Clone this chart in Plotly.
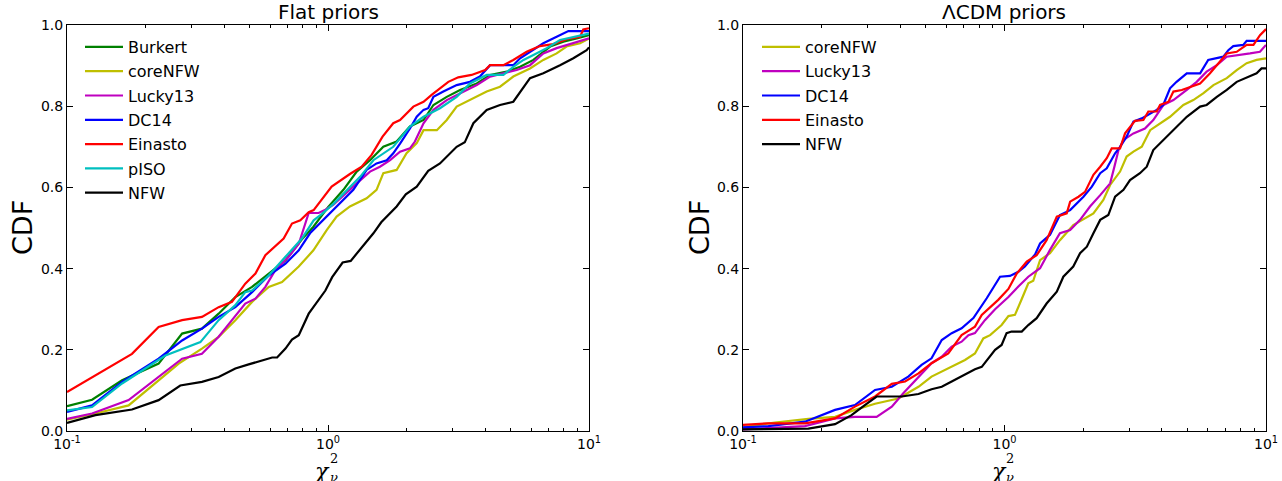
import numpy as np
import plotly.graph_objects as go

# ---------------- data (log10 chi2_nu, CDF) ----------------
# Flat priors panel
flat_burkert_lx = [-1, -0.904, -0.789, -0.649, -0.559, -0.483, -0.419, -0.355, -0.291, -0.227, -0.163, -0.100, -0.056, 0.001, 0.059, 0.110, 0.161, 0.212, 0.263, 0.314, 0.366, 0.404, 0.455, 0.506, 0.570, 0.621, 0.685, 0.736, 0.787, 0.851, 0.902, 0.953, 1.0]
flat_burkert_y = [0.061, 0.077, 0.125, 0.166, 0.240, 0.252, 0.289, 0.330, 0.355, 0.388, 0.420, 0.472, 0.503, 0.552, 0.594, 0.639, 0.667, 0.700, 0.713, 0.750, 0.766, 0.803, 0.823, 0.840, 0.856, 0.877, 0.885, 0.897, 0.914, 0.947, 0.959, 0.967, 0.975]

flat_corenfw_lx = [-1, -0.891, -0.764, -0.662, -0.572, -0.483, -0.419, -0.355, -0.291, -0.227, -0.176, -0.112, -0.056, -0.005, 0.033, 0.084, 0.148, 0.186, 0.212, 0.263, 0.301, 0.340, 0.366, 0.417, 0.455, 0.493, 0.544, 0.608, 0.659, 0.710, 0.774, 0.825, 0.876, 0.914, 0.966, 1.0]
flat_corenfw_y = [0.028, 0.043, 0.063, 0.117, 0.166, 0.203, 0.232, 0.273, 0.318, 0.355, 0.367, 0.405, 0.445, 0.495, 0.528, 0.553, 0.573, 0.594, 0.635, 0.643, 0.684, 0.709, 0.741, 0.741, 0.766, 0.799, 0.815, 0.836, 0.848, 0.873, 0.893, 0.914, 0.930, 0.947, 0.955, 0.967]

flat_lucky13_lx = [-1, -0.904, -0.764, -0.649, -0.559, -0.483, -0.419, -0.368, -0.317, -0.278, -0.240, -0.202, -0.151, -0.112, -0.087, -0.074, -0.036, -0.010, 0.020, 0.059, 0.110, 0.161, 0.199, 0.238, 0.276, 0.314, 0.333, 0.366, 0.404, 0.455, 0.506, 0.570, 0.621, 0.672, 0.723, 0.774, 0.825, 0.876, 0.940, 1.0]
flat_lucky13_y = [0.030, 0.043, 0.076, 0.133, 0.178, 0.190, 0.232, 0.273, 0.314, 0.326, 0.355, 0.396, 0.429, 0.461, 0.511, 0.537, 0.537, 0.545, 0.557, 0.581, 0.610, 0.639, 0.651, 0.667, 0.688, 0.696, 0.713, 0.758, 0.791, 0.815, 0.832, 0.852, 0.873, 0.881, 0.889, 0.901, 0.930, 0.943, 0.955, 0.967]

flat_dc14_lx = [-1, -0.904, -0.789, -0.700, -0.649, -0.559, -0.483, -0.419, -0.355, -0.291, -0.227, -0.163, -0.112, -0.069, -0.018, 0.046, 0.097, 0.148, 0.186, 0.225, 0.250, 0.276, 0.314, 0.340, 0.366, 0.384, 0.404, 0.442, 0.493, 0.544, 0.582, 0.621, 0.710, 0.736, 0.774, 0.825, 0.876, 0.921, 1.0]
flat_dc14_y = [0.047, 0.063, 0.121, 0.158, 0.178, 0.223, 0.252, 0.281, 0.305, 0.342, 0.383, 0.412, 0.445, 0.487, 0.520, 0.561, 0.594, 0.643, 0.659, 0.667, 0.684, 0.708, 0.745, 0.774, 0.791, 0.795, 0.823, 0.836, 0.852, 0.860, 0.873, 0.901, 0.901, 0.918, 0.934, 0.955, 0.971, 0.985, 0.985]

flat_einasto_lx = [-1, -0.904, -0.751, -0.649, -0.559, -0.483, -0.419, -0.368, -0.317, -0.278, -0.240, -0.170, -0.138, -0.106, -0.074, -0.055, 0.014, 0.084, 0.129, 0.167, 0.209, 0.250, 0.276, 0.327, 0.366, 0.397, 0.429, 0.461, 0.499, 0.550, 0.602, 0.621, 0.672, 0.710, 0.761, 0.812, 0.863, 0.914, 0.966, 0.978, 1.0]
flat_einasto_y = [0.096, 0.133, 0.190, 0.256, 0.273, 0.281, 0.305, 0.318, 0.363, 0.388, 0.433, 0.474, 0.511, 0.519, 0.539, 0.544, 0.602, 0.633, 0.651, 0.680, 0.725, 0.758, 0.766, 0.799, 0.811, 0.828, 0.844, 0.860, 0.871, 0.877, 0.889, 0.901, 0.901, 0.914, 0.934, 0.948, 0.953, 0.965, 0.971, 0.989, 0.992]

flat_piso_lx = [-1, -0.904, -0.789, -0.623, -0.489, -0.419, -0.355, -0.317, -0.291, -0.227, -0.163, -0.100, -0.055, -0.023, 0.022, 0.059, 0.123, 0.174, 0.212, 0.250, 0.282, 0.314, 0.366, 0.429, 0.493, 0.544, 0.608, 0.672, 0.710, 0.749, 0.787, 0.838, 0.889, 0.940, 1.0]
flat_piso_y = [0.051, 0.059, 0.117, 0.186, 0.219, 0.273, 0.310, 0.342, 0.346, 0.383, 0.429, 0.474, 0.519, 0.535, 0.560, 0.585, 0.626, 0.667, 0.684, 0.700, 0.725, 0.750, 0.774, 0.795, 0.823, 0.856, 0.877, 0.877, 0.897, 0.914, 0.926, 0.943, 0.963, 0.971, 0.979]

flat_nfw_lx = [-1, -0.891, -0.751, -0.649, -0.566, -0.483, -0.419, -0.355, -0.304, -0.253, -0.214, -0.195, -0.163, -0.138, -0.112, -0.074, -0.036, -0.010, 0.016, 0.056, 0.087, 0.123, 0.174, 0.204, 0.263, 0.298, 0.340, 0.384, 0.429, 0.493, 0.524, 0.557, 0.608, 0.659, 0.710, 0.774, 0.825, 0.889, 0.940, 0.991, 1.0]
flat_nfw_y = [0.020, 0.039, 0.053, 0.076, 0.112, 0.121, 0.133, 0.154, 0.164, 0.174, 0.181, 0.181, 0.203, 0.225, 0.236, 0.289, 0.322, 0.346, 0.379, 0.415, 0.419, 0.446, 0.487, 0.514, 0.553, 0.583, 0.602, 0.641, 0.659, 0.700, 0.711, 0.758, 0.791, 0.803, 0.811, 0.869, 0.881, 0.901, 0.918, 0.938, 0.945]

# LCDM priors panel
lcdm_corenfw_lx = [-1, -0.878, -0.750, -0.648, -0.572, -0.495, -0.406, -0.329, -0.279, -0.215, -0.151, -0.113, -0.081, -0.055, -0.011, 0.015, 0.040, 0.066, 0.091, 0.110, 0.136, 0.174, 0.212, 0.263, 0.308, 0.340, 0.378, 0.404, 0.442, 0.467, 0.493, 0.525, 0.557, 0.595, 0.633, 0.684, 0.722, 0.761, 0.799, 0.850, 0.888, 0.926, 0.964, 1.0]
lcdm_corenfw_y = [0.009, 0.021, 0.030, 0.035, 0.052, 0.067, 0.080, 0.109, 0.134, 0.154, 0.175, 0.191, 0.228, 0.236, 0.261, 0.283, 0.286, 0.325, 0.364, 0.370, 0.421, 0.438, 0.470, 0.507, 0.524, 0.536, 0.569, 0.606, 0.639, 0.676, 0.688, 0.700, 0.741, 0.758, 0.774, 0.803, 0.815, 0.832, 0.852, 0.869, 0.889, 0.906, 0.914, 0.918]

lcdm_lucky13_lx = [-1, -0.763, -0.648, -0.572, -0.489, -0.431, -0.387, -0.329, -0.279, -0.240, -0.202, -0.164, -0.138, -0.113, -0.075, -0.036, 0.015, 0.053, 0.091, 0.136, 0.174, 0.212, 0.251, 0.289, 0.327, 0.366, 0.404, 0.420, 0.436, 0.455, 0.493, 0.537, 0.569, 0.608, 0.646, 0.697, 0.735, 0.773, 0.812, 0.850, 0.901, 0.939, 0.977, 1.0]
lcdm_lucky13_y = [0.004, 0.012, 0.031, 0.035, 0.035, 0.060, 0.093, 0.134, 0.167, 0.183, 0.208, 0.220, 0.236, 0.241, 0.273, 0.300, 0.330, 0.356, 0.380, 0.401, 0.446, 0.487, 0.495, 0.520, 0.553, 0.581, 0.610, 0.650, 0.692, 0.717, 0.733, 0.745, 0.766, 0.803, 0.815, 0.840, 0.860, 0.885, 0.901, 0.922, 0.926, 0.930, 0.934, 0.951]

lcdm_dc14_lx = [-1, -0.903, -0.763, -0.648, -0.572, -0.495, -0.431, -0.368, -0.317, -0.279, -0.240, -0.202, -0.164, -0.119, -0.068, -0.017, 0.021, 0.053, 0.078, 0.117, 0.136, 0.174, 0.212, 0.251, 0.302, 0.334, 0.366, 0.391, 0.423, 0.442, 0.467, 0.493, 0.525, 0.557, 0.582, 0.607, 0.633, 0.658, 0.697, 0.748, 0.779, 0.837, 0.856, 0.875, 0.913, 0.926, 1.0]
lcdm_dc14_y = [0.009, 0.012, 0.023, 0.052, 0.064, 0.101, 0.109, 0.134, 0.163, 0.179, 0.224, 0.241, 0.253, 0.278, 0.327, 0.380, 0.382, 0.392, 0.405, 0.435, 0.462, 0.483, 0.532, 0.544, 0.577, 0.602, 0.635, 0.647, 0.684, 0.700, 0.725, 0.762, 0.770, 0.782, 0.791, 0.803, 0.844, 0.860, 0.881, 0.881, 0.914, 0.922, 0.938, 0.948, 0.951, 0.961, 0.961]

lcdm_einasto_lx = [-1, -0.903, -0.763, -0.648, -0.572, -0.495, -0.431, -0.380, -0.329, -0.279, -0.215, -0.164, -0.113, -0.087, -0.024, 0.015, 0.047, 0.085, 0.123, 0.161, 0.200, 0.238, 0.251, 0.283, 0.308, 0.340, 0.366, 0.391, 0.410, 0.442, 0.461, 0.499, 0.531, 0.550, 0.582, 0.595, 0.627, 0.646, 0.678, 0.710, 0.748, 0.786, 0.811, 0.850, 0.888, 0.926, 0.952, 0.977, 1.0]
lcdm_einasto_y = [0.015, 0.019, 0.019, 0.031, 0.060, 0.085, 0.116, 0.122, 0.142, 0.167, 0.191, 0.236, 0.257, 0.286, 0.323, 0.350, 0.388, 0.417, 0.433, 0.470, 0.528, 0.536, 0.565, 0.577, 0.589, 0.631, 0.651, 0.672, 0.696, 0.696, 0.733, 0.764, 0.766, 0.787, 0.787, 0.803, 0.811, 0.836, 0.840, 0.848, 0.856, 0.881, 0.901, 0.930, 0.934, 0.951, 0.951, 0.975, 0.990]

lcdm_nfw_lx = [-1, -0.750, -0.648, -0.585, -0.534, -0.489, -0.393, -0.329, -0.279, -0.240, -0.202, -0.164, -0.138, -0.113, -0.087, -0.062, -0.036, -0.011, 0.008, 0.027, 0.066, 0.091, 0.123, 0.161, 0.200, 0.225, 0.263, 0.289, 0.315, 0.340, 0.366, 0.397, 0.423, 0.455, 0.480, 0.518, 0.544, 0.569, 0.595, 0.627, 0.658, 0.697, 0.748, 0.773, 0.812, 0.850, 0.888, 0.939, 0.964, 0.983, 1.0]
lcdm_nfw_y = [0.004, 0.006, 0.017, 0.039, 0.064, 0.085, 0.085, 0.091, 0.103, 0.109, 0.122, 0.135, 0.142, 0.152, 0.158, 0.179, 0.200, 0.212, 0.241, 0.245, 0.245, 0.261, 0.278, 0.314, 0.343, 0.380, 0.405, 0.438, 0.454, 0.487, 0.520, 0.532, 0.577, 0.594, 0.618, 0.635, 0.651, 0.692, 0.709, 0.729, 0.750, 0.774, 0.799, 0.803, 0.823, 0.840, 0.860, 0.873, 0.881, 0.893, 0.893]

x_tick_vals = [0.1, 1, 10]
x_tick_text = ["10<sup>-1</sup>", "10<sup>0</sup>", "10<sup>1</sup>"]
y_tick_vals = [0.0, 0.2, 0.4, 0.6, 0.8, 1.0]
y_tick_text = ["0.0", "0.2", "0.4", "0.6", "0.8", "1.0"]
minor_vals = [0.2, 0.3, 0.4, 0.5, 0.6, 0.7, 0.8, 0.9, 2, 3, 4, 5, 6, 7, 8, 9]

colors = {"Burkert": "#008000", "coreNFW": "#bfbf00", "Lucky13": "#bf00bf",
          "DC14": "#0000ff", "Einasto": "#ff0000", "pISO": "#00bfbf", "NFW": "#000000"}

flat_series = [("Burkert", flat_burkert_lx, flat_burkert_y),
               ("coreNFW", flat_corenfw_lx, flat_corenfw_y),
               ("Lucky13", flat_lucky13_lx, flat_lucky13_y),
               ("DC14", flat_dc14_lx, flat_dc14_y),
               ("Einasto", flat_einasto_lx, flat_einasto_y),
               ("pISO", flat_piso_lx, flat_piso_y),
               ("NFW", flat_nfw_lx, flat_nfw_y)]
lcdm_series = [("coreNFW", lcdm_corenfw_lx, lcdm_corenfw_y),
               ("Lucky13", lcdm_lucky13_lx, lcdm_lucky13_y),
               ("DC14", lcdm_dc14_lx, lcdm_dc14_y),
               ("Einasto", lcdm_einasto_lx, lcdm_einasto_y),
               ("NFW", lcdm_nfw_lx, lcdm_nfw_y)]

W, H = 1282, 481
FONT = "DejaVu Sans"


def fx(px):
    return px / W


def fy(py):
    return 1 - py / H


fig = go.Figure()
for i, (name, lx, y) in enumerate(flat_series):
    fig.add_trace(go.Scatter(x=10 ** np.array(lx), y=y, mode="lines", name=name,
                             line=dict(color=colors[name], width=2.2),
                             xaxis="x", yaxis="y", legend="legend",
                             legendgroup="f%d" % i))
for i, (name, lx, y) in enumerate(lcdm_series):
    fig.add_trace(go.Scatter(x=10 ** np.array(lx), y=y, mode="lines", name=name,
                             line=dict(color=colors[name], width=2.2),
                             xaxis="x2", yaxis="y2", legend="legend2",
                             legendgroup="l%d" % i))


def xax(domain, anchor):
    return dict(domain=domain, anchor=anchor, type="log", range=[-1, 1],
                automargin=False,
                tickmode="array", tickvals=x_tick_vals, ticktext=x_tick_text,
                ticks="inside", ticklen=6, tickwidth=1, tickcolor="black",
                showline=True, linecolor="black", linewidth=1, mirror="allticks",
                showgrid=False, zeroline=False,
                tickfont=dict(family=FONT, size=14, color="black"),
                minor=dict(tickmode="array", tickvals=minor_vals, ticks="inside",
                           ticklen=3, tickwidth=1, tickcolor="black", showgrid=False))


def yax(domain, anchor):
    return dict(domain=domain, anchor=anchor, range=[0, 1],
                automargin=False,
                tickmode="array", tickvals=y_tick_vals, ticktext=y_tick_text,
                ticks="inside", ticklen=6, tickwidth=1, tickcolor="black",
                showline=True, linecolor="black", linewidth=1, mirror="allticks",
                showgrid=False, zeroline=False,
                tickfont=dict(family=FONT, size=14, color="black"))


ydom = [fy(431), fy(25)]
fig.update_layout(
    width=W, height=H, margin=dict(l=0, r=0, t=0, b=0, autoexpand=False),
    paper_bgcolor="white", plot_bgcolor="white",
    xaxis=xax([fx(67), fx(589)], "y"),
    yaxis=yax(ydom, "x"),
    xaxis2=xax([fx(743), fx(1266)], "y2"),
    yaxis2=yax(ydom, "x2"),
    legend=dict(x=fx(80), y=fy(30), xanchor="left", yanchor="top",
                bgcolor="rgba(0,0,0,0)", tracegroupgap=0.5, itemwidth=38,
                font=dict(family=FONT, size=16, color="black")),
    legend2=dict(x=fx(757), y=fy(30), xanchor="left", yanchor="top",
                 bgcolor="rgba(0,0,0,0)", tracegroupgap=0.5, itemwidth=38,
                 font=dict(family=FONT, size=16, color="black")),
    showlegend=True,
)


def ann(text, px, py, size, family=FONT, angle=0):
    fig.add_annotation(text=text, x=fx(px), y=fy(py), xref="paper", yref="paper",
                       showarrow=False, textangle=angle, xanchor="center", yanchor="middle",
                       font=dict(family=family, size=size, color="black"))


ann("Flat priors", 328, 12, 20)
ann("ΛCDM priors", 1004, 12, 20)
ann("CDF", 22, 228, 27, angle=-90)
ann("CDF", 699, 228, 27, angle=-90)
for cx in (328, 1004):
    ann("<i>χ</i>", cx - 6, 471, 22, family="DejaVu Serif")
    ann("2", cx + 6, 458, 13, family="DejaVu Serif")
    ann("<i>ν</i>", cx + 6, 477, 13, family="DejaVu Serif")

# remove the page's default 8px body margin so the figure sits at the window's corner
fig.write_html("out.html", config={"displayModeBar": False},
               post_script="document.body.style.margin='0px';")
